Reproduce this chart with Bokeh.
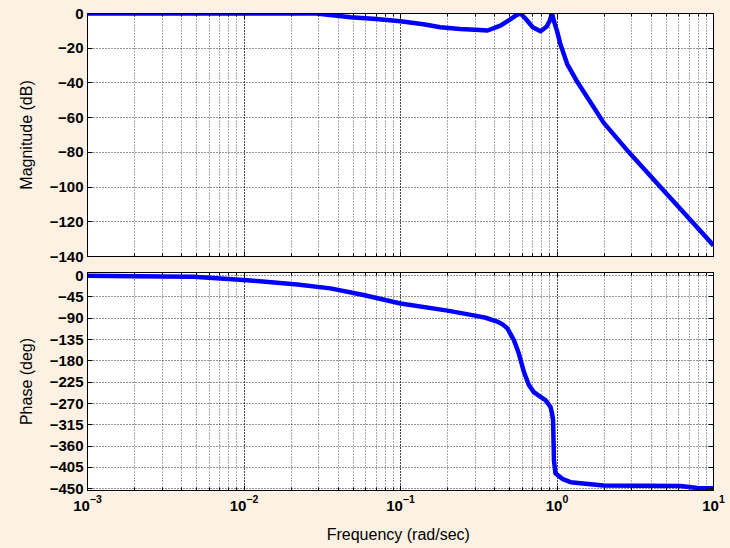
from bokeh.plotting import figure
from bokeh.layouts import column
from bokeh.models import FixedTicker, LinearAxis, LogAxis, LogTicker, Range1d
from bokeh.embed import file_html
from bokeh.resources import INLINE

# ---- data ----
mag_freq = [0.001, 0.01, 0.029, 0.048, 0.07, 0.1, 0.14, 0.18, 0.24, 0.30, 0.36, 0.435,
            0.50, 0.55, 0.585, 0.63, 0.70, 0.785, 0.86, 0.90, 0.93, 0.96, 1.0, 1.05,
            1.16, 1.35, 1.99, 2.95, 4.8, 6.8, 10.0]
mag_db = [0, 0, 0, -2.1, -3.2, -4.5, -6.2, -7.9, -8.9, -9.4, -9.8, -7,
          -3.5, -1, 0, -3, -7.9, -10.2, -7.5, -4, 0, -5, -10, -17.5,
          -29, -39.5, -63, -81, -102, -117, -133.6]

ph_freq = [0.001, 0.002, 0.00476, 0.0105, 0.0219, 0.0357, 0.058, 0.1, 0.2, 0.293, 0.35,
           0.415, 0.45, 0.481, 0.530, 0.570, 0.614, 0.661, 0.711, 0.785, 0.844, 0.908,
           0.930, 0.944, 0.956, 0.977, 1.08, 1.22, 1.98, 6.15, 7.9, 10.0]
ph_deg = [-0.6, -1.5, -2.7, -9.7, -18.8, -27, -41, -59, -74, -84, -89,
          -97, -103, -111, -136, -164, -203, -231, -246, -256, -263, -277,
          -291, -305, -390, -417, -429, -436, -443, -444, -448.5, -449]

mag_ticks = [0, -20, -40, -60, -80, -100, -120, -140]
ph_ticks = [0, -45, -90, -135, -180, -225, -270, -315, -360, -405, -450]

x_lim = (1e-3, 10.0)
mag_lim = (-140, 0)
ph_lim = (-453.6, 6.5)

BG = "#FCF1E3"
FONT = "Liberation Sans"
BLUE = "#0000FF"


def style(p, yticks, ylabel, xlabels):
    p.background_fill_color = "white"
    p.border_fill_color = BG
    p.outline_line_color = "black"
    p.outline_line_width = 1
    for g in (p.xgrid, p.ygrid):
        g.grid_line_color = "#111111"
        g.grid_line_dash = "1 2"
        g.grid_line_alpha = 0.9
    p.xgrid.minor_grid_line_color = "#111111"
    p.xgrid.minor_grid_line_dash = "1 2"
    p.xgrid.minor_grid_line_alpha = 0.7

    xa = p.xaxis[0]
    xa.ticker = LogTicker(num_minor_ticks=10)
    ya = p.yaxis[0]
    ya.ticker = FixedTicker(ticks=yticks)
    for ax in (xa, ya):
        ax.axis_line_color = "black"
        ax.major_tick_in = 5
        ax.major_tick_out = 0
        ax.minor_tick_in = 3
        ax.minor_tick_out = 0
        ax.major_label_text_font = FONT
        ax.major_label_text_font_style = "bold"
        ax.major_label_text_font_size = "15px"
        ax.major_label_text_color = "black"
        ax.axis_label_text_font = FONT
        ax.axis_label_text_font_style = "normal"
        ax.axis_label_text_font_size = "16px"
        ax.axis_label_text_color = "black"
    ya.minor_tick_line_color = None
    ya.major_label_standoff = 4
    ya.axis_label = ylabel
    ya.axis_label_standoff = 12
    if xlabels:
        xa.major_label_standoff = 4
        xa.axis_label = "Frequency  (rad/sec)"
        xa.axis_label_standoff = 12
    else:
        xa.major_label_text_font_size = "1px"
        xa.major_label_text_color = None
        xa.major_label_standoff = 0

    ra = LinearAxis(ticker=FixedTicker(ticks=yticks), major_label_text_font_size="1px",
                    major_label_text_color=None,
                    major_tick_in=5, major_tick_out=0, major_label_standoff=0,
                    minor_tick_line_color=None, axis_line_color="black")
    p.add_layout(ra, "right")
    ta = LogAxis(ticker=LogTicker(num_minor_ticks=10), major_label_text_font_size="1px",
                 major_label_text_color=None,
                 major_tick_in=5, major_tick_out=0, minor_tick_in=3, minor_tick_out=0,
                 major_label_standoff=0, axis_line_color="black")
    p.add_layout(ta, "above")


p1 = figure(width=730, height=264, x_axis_type="log",
            x_range=Range1d(*x_lim), y_range=Range1d(*mag_lim),
            output_backend="svg", toolbar_location=None,
            min_border_left=87, min_border_right=17, min_border_top=13, min_border_bottom=8)
style(p1, mag_ticks, "Magnitude (dB)", False)
p1.line(mag_freq, mag_db, line_color=BLUE, line_width=4.5, line_join="round")

p2 = figure(width=730, height=284, x_axis_type="log",
            x_range=Range1d(*x_lim), y_range=Range1d(*ph_lim),
            output_backend="svg", toolbar_location=None,
            min_border_left=87, min_border_right=17, min_border_top=8, min_border_bottom=58)
style(p2, ph_ticks, "Phase (deg)", True)
p2.line(ph_freq, ph_deg, line_color=BLUE, line_width=4.5, line_join="round")

layout = column(p1, p2, spacing=0)
layout.styles = {"background-color": BG}

html = file_html(layout, INLINE)
html = html.replace("<body>", '<body style="background-color:%s">' % BG)
open("out.html", "w").write(html)
